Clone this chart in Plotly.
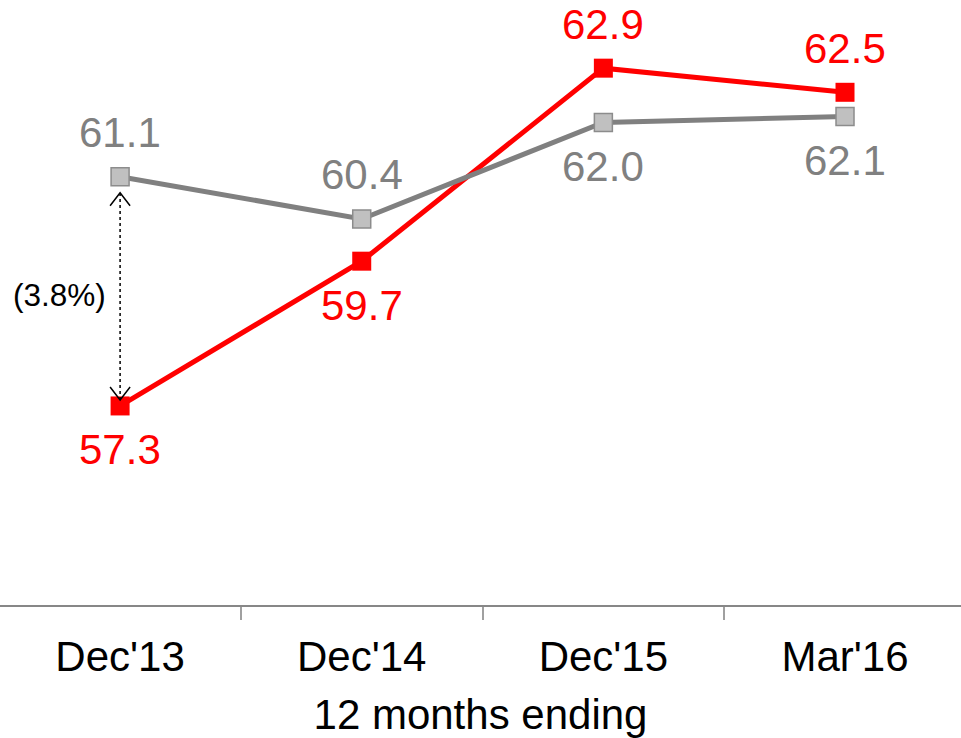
import plotly.graph_objects as go

# Periods (12 months ending) and the two series
periods = ["Dec'13", "Dec'14", "Dec'15", "Mar'16"]
red_values = [57.3, 59.7, 62.9, 62.5]
grey_values = [61.1, 60.4, 62.0, 62.1]

# Which side of the marker each value label sits on (+1 above, -1 below)
red_label_side = [-1, -1, 1, 1]
grey_label_side = [1, 1, -1, -1]

RED = "#FF0000"
GREY_LINE = "#808080"
GREY_FILL = "#C0C0C0"
FONT = "Liberation Sans, Arial, sans-serif"

fig = go.Figure()

# Red series drawn first so the grey line crosses over it
fig.add_trace(go.Scatter(
    x=periods, y=red_values, mode="lines+markers",
    line=dict(color=RED, width=5),
    marker=dict(symbol="square", size=19, color=RED, line=dict(width=0)),
    hoverinfo="x+y", showlegend=False,
))
fig.add_trace(go.Scatter(
    x=periods, y=grey_values, mode="lines+markers",
    line=dict(color=GREY_LINE, width=5),
    marker=dict(symbol="square", size=18, color=GREY_FILL,
                line=dict(color="#8C8C8C", width=1.5)),
    hoverinfo="x+y", showlegend=False,
))

# Value labels
for vals, sides, col in ((red_values, red_label_side, RED),
                         (grey_values, grey_label_side, GREY_LINE)):
    for p, v, s in zip(periods, vals, sides):
        fig.add_annotation(
            x=p, y=v, text=f"{v:.1f}", showarrow=False,
            yshift=44 * s, xanchor="center", yanchor="middle",
            font=dict(family=FONT, size=42, color=col),
        )

# Dotted double-headed gap marker between the two series at the first period
gap = grey_values[0] - red_values[0]
top = grey_values[0]
bottom = red_values[0]
fig.add_shape(
    type="line", xref="x", yref="y",
    x0=0, x1=0, y0=top - 0.27, y1=bottom + 0.1,
    line=dict(color="black", width=1.5, dash="dot"),
)
# open chevron heads, sized in pixels around their anchors
fig.add_shape(
    type="path", xref="x", yref="y",
    xsizemode="pixel", ysizemode="pixel", xanchor=0, yanchor=top,
    path="M -10 -29 L 0 -16 L 10 -29",
    line=dict(color="black", width=1.5),
)
fig.add_shape(
    type="path", xref="x", yref="y",
    xsizemode="pixel", ysizemode="pixel", xanchor=0, yanchor=bottom,
    path="M -10 19 L 0 6 L 10 19",
    line=dict(color="black", width=1.5),
)
fig.add_annotation(
    x=0, y=(top + bottom) / 2, text=f"({gap:.1f}%)", showarrow=False,
    xshift=-61, yshift=-4, xanchor="center", yanchor="middle",
    font=dict(family=FONT, size=31.5, color="black"),
)

fig.update_layout(
    width=961, height=738,
    margin=dict(l=0, r=0, t=0, b=133, pad=0),
    paper_bgcolor="white", plot_bgcolor="white",
    font=dict(family=FONT, color="black"),
    xaxis=dict(
        type="category", range=[-0.497, 3.48],
        showline=True, linecolor="#878787", linewidth=2,
        ticks="outside", tickson="boundaries", ticklen=13,
        tickcolor="#A0A0A0", tickwidth=1.5,
        showgrid=False, zeroline=False,
        ticklabelstandoff=14,
        tickfont=dict(family=FONT, size=42, color="black"),
        title=dict(text="12 months ending", standoff=26,
                   font=dict(family=FONT, size=42, color="black")),
    ),
    yaxis=dict(
        range=[54.0, 64.03], visible=False, showgrid=False, zeroline=False,
    ),
)

fig.write_html("out.html")
